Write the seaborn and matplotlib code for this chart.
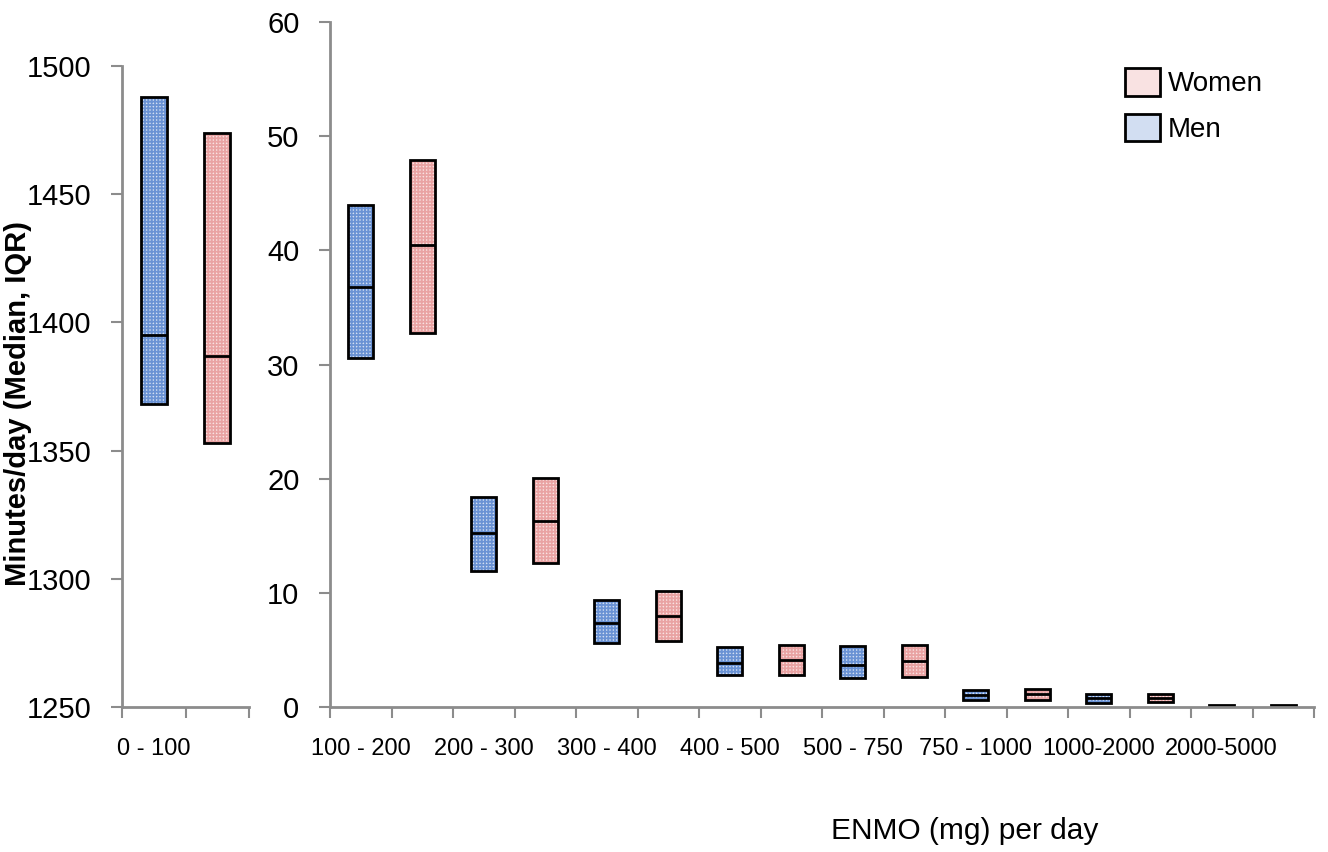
import matplotlib
matplotlib.use("Agg")
import matplotlib.pyplot as plt
from matplotlib.colors import to_rgb
from matplotlib.patches import Patch, PathPatch
import numpy as np
import pandas as pd
import seaborn as sns

sns.set_style("white")
plt.rcParams["font.family"] = ["Liberation Sans", "DejaVu Sans"]
plt.rcParams["hatch.linewidth"] = 1.3
plt.rcParams["text.color"] = "black"
plt.rcParams["xtick.color"] = "black"
plt.rcParams["ytick.color"] = "black"

# quartiles (q1, median, q3), minutes/day
low_band = ["0 - 100"]
men_low = [[1368, 1395, 1488]]
women_low = [[1353, 1387, 1474]]

bands = ["100 - 200", "200 - 300", "300 - 400", "400 - 500",
         "500 - 750", "750 - 1000", "1000-2000", "2000-5000"]
men_q1 = [30.6, 11.9, 5.6, 2.8, 2.5, 0.6, 0.35, 0.03]
men_med = [36.8, 15.2, 7.4, 3.85, 3.7, 1.05, 0.8, 0.1]
men_q3 = [44.0, 18.4, 9.4, 5.25, 5.3, 1.5, 1.15, 0.18]
women_q1 = [32.8, 12.6, 5.8, 2.8, 2.65, 0.6, 0.4, 0.03]
women_med = [40.5, 16.3, 8.0, 4.1, 4.0, 1.15, 0.8, 0.1]
women_q3 = [47.9, 20.1, 10.2, 5.45, 5.4, 1.6, 1.15, 0.18]

sexes = ["Men", "Women"]
fill_colors = {"Men": "#d2def2", "Women": "#f9e2e2"}
hatch_colors = {"Men": "#6a92d4", "Women": "#e9a3a3"}
grey = "#8c8c8c"


def long_frame(labels, men, women):
    # five points per box so that the 25/50/75th percentiles are exactly q1/median/q3
    rows = []
    for label, m, w in zip(labels, men, women):
        for sex, (q1, med, q3) in (("Men", m), ("Women", w)):
            for v in (q1, q1, med, q3, q3):
                rows.append({"band": label, "sex": sex, "value": v})
    return pd.DataFrame(rows)


def closest_sex(color):
    rgb = np.array(to_rgb(color))
    dists = {s: np.abs(rgb - np.array(to_rgb(fill_colors[s]))).sum() for s in sexes}
    return min(dists, key=dists.get)


low_df = long_frame(low_band, men_low, women_low)
high_df = long_frame(bands, list(zip(men_q1, men_med, men_q3)),
                     list(zip(women_q1, women_med, women_q3)))

fig = plt.figure(figsize=(13.28, 8.52), dpi=100)
ax_low = fig.add_axes([122 / 1328, 1 - 707 / 852, 127 / 1328, 641 / 852])
ax_high = fig.add_axes([330 / 1328, 1 - 707 / 852, 984 / 1328, 685 / 852])

for ax, df, labels in ((ax_low, low_df, low_band), (ax_high, high_df, bands)):
    sns.boxplot(data=df, x="band", y="value", hue="sex", hue_order=sexes,
                order=labels, palette=fill_colors, saturation=1, width=1.0,
                gap=0.59, whis=0, showcaps=False, showfliers=False,
                linecolor="black", linewidth=2, legend=False, ax=ax)
    # hatched fill behind each box outline
    for patch in list(ax.patches):
        sex = closest_sex(patch.get_facecolor())
        back = PathPatch(patch.get_path(), transform=patch.get_transform(),
                         facecolor=fill_colors[sex], edgecolor=hatch_colors[sex],
                         lw=0, hatch="+++++", zorder=patch.get_zorder() - 0.1)
        ax.add_patch(back)
        patch.set_facecolor("none")

    n = len(labels)
    ax.set_xlim(-0.5, n - 0.5)
    ax.set_xticks([i * 0.5 - 0.5 for i in range(2 * n + 1)])
    ax.set_xticklabels([])
    ax.set_xticks([i - 0.25 for i in range(n)], labels, minor=True)
    ax.tick_params(axis="x", which="minor", length=0, pad=22, labelsize=17)
    ax.tick_params(axis="x", which="major", direction="out", length=8,
                   width=1.5, color=grey, bottom=True)
    ax.tick_params(axis="y", direction="out", length=8, width=1.5, color=grey,
                   left=True, pad=14, labelsize=21)
    ax.set_xlabel("")
    ax.set_ylabel("")
    for side in ("top", "right"):
        ax.spines[side].set_visible(False)
    for side in ("left", "bottom"):
        ax.spines[side].set_color(grey)
        ax.spines[side].set_linewidth(2)

ax_low.set_ylim(1250, 1500)
ax_low.set_yticks(range(1250, 1501, 50))
ax_high.set_ylim(0, 60)
ax_high.set_yticks(range(0, 61, 10))

fig.text(18 / 1328, 1 - 404 / 852, "Minutes/day (Median, IQR)", rotation=90,
         ha="center", va="center", fontsize=21, fontweight="bold",
         family=["Liberation Sans Narrow", "Liberation Sans", "DejaVu Sans"])
fig.text(965 / 1328, 1 - 831 / 852, "ENMO (mg) per day", ha="center",
         va="center", fontsize=21.5)

handles = [Patch(facecolor=fill_colors["Women"], edgecolor="black", lw=2, label="Women"),
           Patch(facecolor=fill_colors["Men"], edgecolor="black", lw=2, label="Men")]
fig.legend(handles=handles, loc="upper left", bbox_to_anchor=(1125 / 1328, 1 - 68 / 852),
           frameon=False, fontsize=20, handlelength=1.25, handleheight=1.15,
           handletextpad=0.3, labelspacing=0.6, borderpad=0, borderaxespad=0)

fig.savefig("out.png", dpi=100)
